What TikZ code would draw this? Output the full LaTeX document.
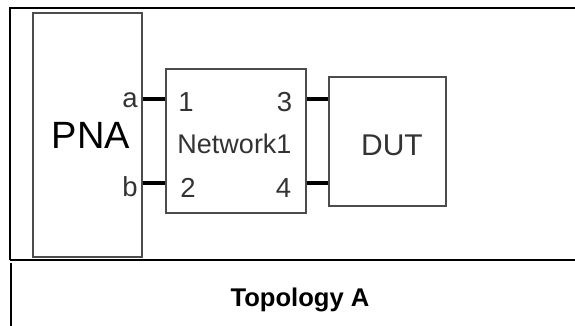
\documentclass[tikz,border=0pt]{standalone}
\usepackage{fontspec}
\setmainfont{Liberation Sans}
\begin{document}
\begin{tikzpicture}[
  x=1pt, y=-1pt,
  unit/.style={draw=black!70, line width=1.2pt, inner sep=0pt},
  port/.style={line width=4pt},
  frame/.style={line width=1.4pt},
  lbl/.style={anchor=base, inner sep=0pt, text=black!80, font=\fontsize{27.5}{29}\selectfont}
]
  \useasboundingbox (0,0) rectangle (575,326);
  % outer frame
  \draw[frame] (10,260) -- (10,8) -- (575,8);
  \draw[frame] (10,260) -- (575,260);
  \draw[frame] (11,263) -- (11,326);

  \node[unit, minimum width=109pt, minimum height=244pt] (pna) at (87.5,135) {};
  \node[unit, minimum width=140pt, minimum height=144pt] (net) at (236,141) {};
  \node[unit, minimum width=117pt, minimum height=129pt] (dut) at (387.5,141.5) {};

  \node[lbl, text=black, font=\fontsize{38}{40}\selectfont] (pnatxt) at (91,148) {PNA};
  \node[lbl, font=\fontsize{30}{32}\selectfont] (duttxt) at (392,155) {DUT};
  \node[lbl, font=\fontsize{27}{29}\selectfont] (nettxt) at (234.5,153) {Network1};

  \node[lbl] (la) at (130,107) {a};
  \node[lbl] (lb) at (130,196) {b};
  \node[lbl] (p1) at (186,112) {1};
  \node[lbl] (p3) at (284.5,112) {3};
  \node[lbl] (p2) at (188,197) {2};
  \node[lbl] (p4) at (283.5,197) {4};

  \coordinate (ya) at (0,99);
  \coordinate (yb) at (0,183);
  \draw[port] (pna.east |- ya) -- (net.west |- ya);
  \draw[port] (pna.east |- yb) -- (net.west |- yb);
  \draw[port] (net.east |- ya) -- (dut.west |- ya);
  \draw[port] (net.east |- yb) -- (dut.west |- yb);

  \node[lbl, text=black, font=\bfseries\fontsize{25.6}{28}\selectfont] (title) at (300,306) {Topology A};
\end{tikzpicture}
\end{document}
